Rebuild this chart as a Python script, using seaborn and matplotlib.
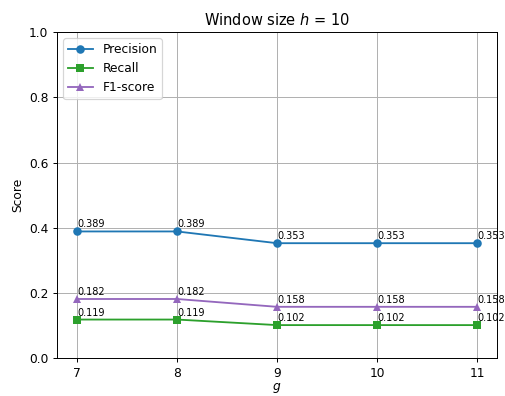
import pandas as pd
import seaborn as sns
import matplotlib.pyplot as plt

g_values = [7, 8, 9, 10, 11]
precision = [0.389, 0.389, 0.353, 0.353, 0.353]
recall = [0.119, 0.119, 0.102, 0.102, 0.102]
f1_score = [0.182, 0.182, 0.158, 0.158, 0.158]

series = [
    ('Precision', precision, 'tab:blue', 'o'),
    ('Recall', recall, 'tab:green', 's'),
    ('F1-score', f1_score, 'tab:purple', '^'),
]

DPI = 88
fig, ax = plt.subplots(figsize=(505 / DPI, 396 / DPI), dpi=DPI)
fig.subplots_adjust(left=0.113, right=0.984, top=0.919, bottom=0.095)

for name, vals, color, marker in series:
    df = pd.DataFrame({'g': g_values, 'score': vals})
    sns.lineplot(data=df, x='g', y='score', ax=ax, color=color, marker=marker,
                 markersize=7, markeredgewidth=0, label=name)
    for x, y in zip(g_values, vals):
        ax.text(x, y + 0.006, f'{y:.3f}', fontsize=8, ha='left', va='bottom')

ax.set_ylim(0, 1.0)
ax.set_xticks(g_values)
ax.grid(True)
ax.set_title('Window size $h$ = 10')
ax.set_xlabel('$g$', labelpad=1)
ax.set_ylabel('Score')
ax.legend(loc='upper left')

fig.savefig('out.png')
